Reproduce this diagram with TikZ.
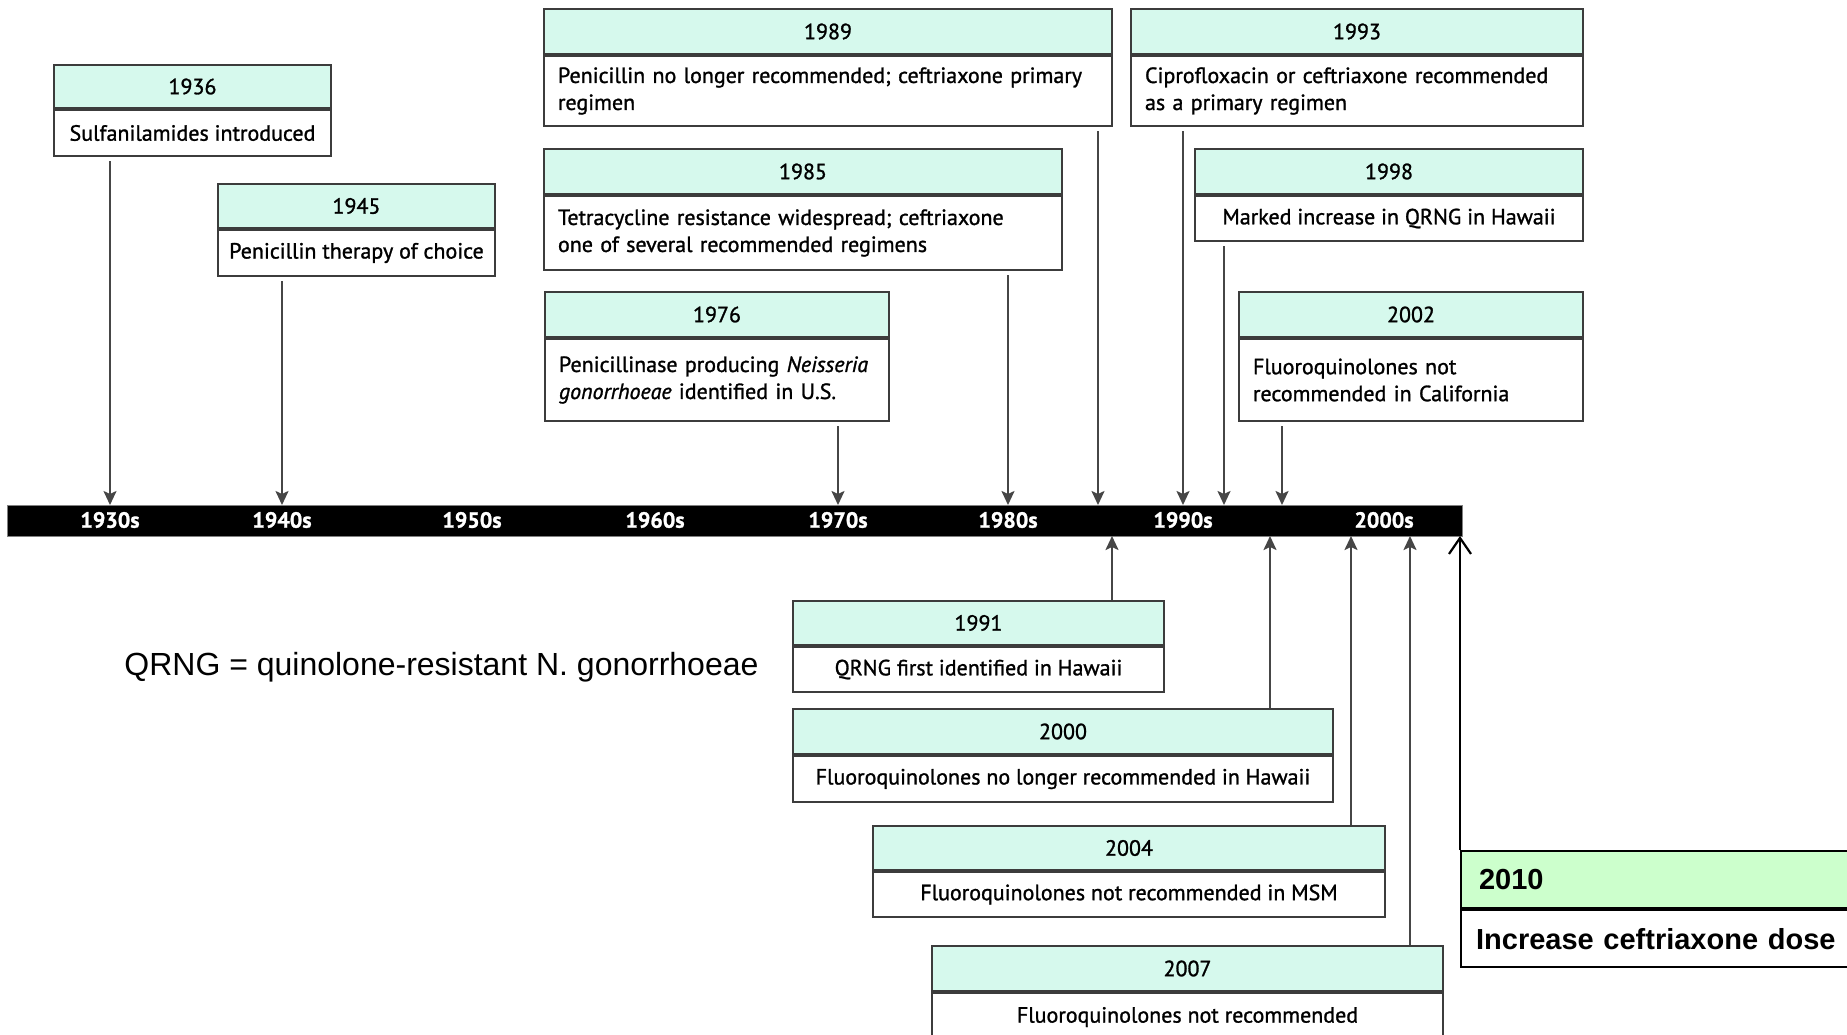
\documentclass[tikz,border=0pt]{standalone}
\usepackage{fontspec}
\newfontfamily\boxfont[FakeBold=1.2]{PT Sans}
\newfontfamily\arialfont{Liberation Sans}
\usetikzlibrary{positioning,arrows.meta}
\definecolor{hdrcyan}{RGB}{214,249,237}
\definecolor{hdrgreen}{RGB}{204,255,204}
\definecolor{boxgray}{RGB}{60,60,60}
\definecolor{arrgray}{RGB}{70,70,70}

\begin{document}
\begin{tikzpicture}[x=0.5pt, y=-0.5pt,
  hdr/.style={draw=boxgray, line width=1pt, fill=hdrcyan, anchor=north west, minimum height=22.5pt, inner sep=0pt, font=\boxfont\fontsize{11}{13.5}\selectfont},
  bdy/.style={draw=boxgray, line width=1pt, fill=white, minimum height=23pt, inner xsep=7pt, inner ysep=0pt, font=\boxfont\fontsize{11}{13.5}\selectfont},
  decade/.style={font=\boxfont\bfseries\fontsize{11}{13}\selectfont, text=white, inner sep=0pt},
  down/.style={arrgray, line width=1pt, -{Stealth[length=7pt, width=6.5pt, inset=1.5pt]}, shorten <=2pt},
  up/.style={arrgray, line width=1pt, -{Stealth[length=7pt, width=6.5pt, inset=1.5pt]}},
  newhdr/.style={draw=black, line width=1.1pt, fill=hdrgreen, anchor=north west, minimum height=28.5pt, text width=180pt, inner xsep=9pt, inner ysep=0pt, align=left, font=\arialfont\bfseries\fontsize{14.5}{17}\selectfont},
  newbdy/.style={draw=black, line width=1.1pt, fill=white, minimum height=28.5pt, text width=183pt, inner xsep=7.5pt, inner ysep=0pt, align=left, font=\arialfont\bfseries\fontsize{14.5}{17}\selectfont},
  newarr/.style={black, line width=1.1pt, -{Straight Barb[length=8pt, width=11pt]}},
  note/.style={font=\arialfont\fontsize{16}{19}\selectfont, inner sep=0pt},
]
\useasboundingbox (0,0) rectangle (1847,1034);
\fill[white] (0,0) rectangle (1847,1034);
\clip (0,0) rectangle (1847,1034);

% ====== Timeline bar ======
\node[fill=black, draw=gray, line width=0.5pt, anchor=north west, minimum width=727.5pt, minimum height=15.5pt, inner sep=0pt] (bar) at (7,505) {};
\foreach \x/\d in {110/1930s, 282/1940s, 472/1950s, 655/1960s, 838/1970s, 1008/1980s, 1183/1990s, 1384/2000s}
  \node[decade] (d\d) at (\x,520) {\d};

% ====== Events above the bar ======
\node[hdr, minimum width=138.5pt, minimum height=21.5pt] (h36) at (53,64) {1936};
\node[bdy, minimum width=138.5pt, inner xsep=3pt, below=0pt of h36] (b36) {Sulfanilamides introduced};

\node[hdr, minimum width=138.5pt, minimum height=22pt] (h45) at (217,183) {1945};
\node[bdy, minimum width=138.5pt, inner xsep=2pt, below=0pt of h45] (b45) {Penicillin therapy of choice};

\node[hdr, minimum width=284pt] (h89) at (543,8) {1989};
\node[bdy, text width=270pt, align=left, minimum height=35pt, below=0pt of h89] (b89)
  {Penicillin no longer recommended; ceftriaxone primary\\regimen};

\node[hdr, minimum width=259pt] (h85) at (543,148) {1985};
\node[bdy, text width=245pt, align=left, minimum height=37pt, below=0pt of h85] (b85)
  {Tetracycline resistance widespread; ceftriaxone\\one of several recommended regimens};

\node[hdr, minimum width=172pt] (h76) at (544,291) {1976};
\node[bdy, text width=158pt, align=left, minimum height=41pt, below=0pt of h76] (b76)
  {Penicillinase producing \textit{Neisseria}\\\textit{gonorrhoeae} identified in U.S.};

\node[hdr, minimum width=226pt] (h93) at (1130,8) {1993};
\node[bdy, text width=212pt, align=left, minimum height=35pt, below=0pt of h93] (b93)
  {Ciprofloxacin or ceftriaxone recommended\\as a primary regimen};

\node[hdr, minimum width=194pt] (h98) at (1194,148) {1998};
\node[bdy, minimum width=194pt, minimum height=22.5pt, below=0pt of h98] (b98) {Marked increase in QRNG in Hawaii};

\node[hdr, minimum width=172pt] (h02) at (1238,291) {2002};
\node[bdy, text width=158pt, align=left, minimum height=41pt, below=0pt of h02] (b02)
  {Fluoroquinolones not\\recommended in California};

% ====== Events below the bar ======
\node[hdr, minimum width=185.5pt, minimum height=22pt] (h91) at (792,600) {1991};
\node[bdy, minimum width=185.5pt, minimum height=22.5pt, below=0pt of h91] (b91) {QRNG first identified in Hawaii};

\node[hdr, minimum width=270pt] (h00) at (792,708) {2000};
\node[bdy, minimum width=270pt, inner xsep=4pt, below=0pt of h00] (b00) {Fluoroquinolones no longer recommended in Hawaii};

\node[hdr, minimum width=256pt, minimum height=22pt] (h04) at (872,825) {2004};
\node[bdy, minimum width=256pt, minimum height=22.5pt, below=0pt of h04] (b04) {Fluoroquinolones not recommended in MSM};

\node[hdr, minimum width=255.5pt] (h07) at (931,945) {2007};
\node[bdy, minimum width=255.5pt, minimum height=24pt, below=0pt of h07] (b07) {Fluoroquinolones not recommended};

\node[newhdr] (h10) at (1460,850) {2010};
\node[newbdy, below=0pt of h10] (b10) {Increase ceftriaxone dose};

% ====== Connectors ======
\foreach \n/\x in {36/110, 45/282, 76/838, 85/1008, 89/1098, 93/1183, 98/1224, 02/1282} {
  \coordinate (t\n) at (\x,505);
  \draw[down] (b\n.south -| t\n) -- (t\n);
}
\foreach \n/\x in {91/1112, 00/1270, 04/1351, 07/1410} {
  \coordinate (u\n) at (\x,536);
  \draw[up] (h\n.north -| u\n) -- (u\n);
}
\coordinate (u10) at (1460,536);
\draw[newarr] (h10.north west) -- (u10);

% ====== Abbreviation ======
\node[note, anchor=base west] (abbr) at (124,675) {QRNG = quinolone-resistant N. gonorrhoeae};

\end{tikzpicture}
\end{document}
